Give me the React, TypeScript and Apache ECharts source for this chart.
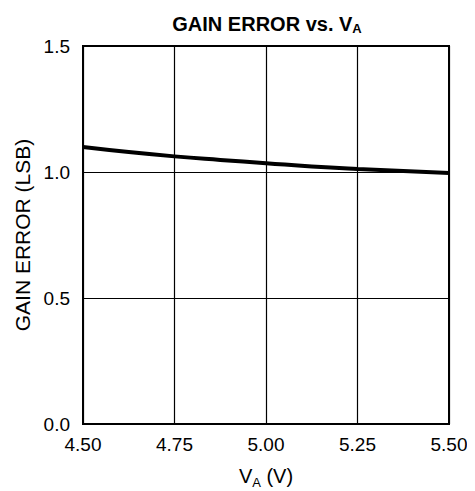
import React, { useEffect, useRef } from "react";
import * as echarts from "echarts";

const voltages = [4.5, 4.625, 4.75, 4.875, 5.0, 5.125, 5.25, 5.375, 5.5];
const gainError = [1.099, 1.079, 1.062, 1.048, 1.035, 1.022, 1.012, 1.004, 0.996];
const xTicks = [4.5, 4.75, 5.0, 5.25, 5.5];
const yTicks = [0, 0.5, 1.0, 1.5];

const FONT = "Liberation Sans, Arial, sans-serif";

export default function App() {
  const ref = useRef<HTMLDivElement>(null);
  useEffect(() => {
    if (!ref.current) return;
    const chart = echarts.init(ref.current, null, { renderer: "svg" });
    chart.setOption({
      animation: false,
      backgroundColor: "#ffffff",
      title: {
        text: "{t|GAIN ERROR vs. V}{s|A}",
        left: 259,
        textAlign: "center",
        top: 2,
        padding: 0,
        textStyle: {
          rich: {
            t: { fontFamily: FONT, fontSize: 20, fontWeight: "bold", color: "#000", verticalAlign: "bottom", lineHeight: 24 },
            s: { fontFamily: FONT, fontSize: 13, fontWeight: "bold", color: "#000", verticalAlign: "bottom", lineHeight: 24, padding: [0, 0, -1, 0] },
          },
        },
      },
      grid: {
        left: 75,
        right: 26,
        top: 38,
        bottom: 67,
        containLabel: false,
        outerBoundsMode: "none",
        show: true,
        borderColor: "#000",
        borderWidth: 2,
        backgroundColor: "transparent",
      },
      xAxis: {
        type: "value",
        min: 4.5,
        max: 5.5,
        interval: 0.25,
        name: "{v|V}{s|A}{v| (V)}",
        nameLocation: "middle",
        nameGap: 40,
        nameTextStyle: {
          rich: {
            v: { fontFamily: FONT, fontSize: 20, color: "#000", verticalAlign: "bottom", lineHeight: 22 },
            s: { fontFamily: FONT, fontSize: 13, color: "#000", verticalAlign: "bottom", lineHeight: 22, padding: [0, 0, -3, 0] },
          },
        },
        axisLine: { show: true, lineStyle: { color: "#000", width: 2 } },
        axisTick: { show: false },
        axisLabel: {
          fontFamily: FONT,
          fontSize: 19,
          color: "#000",
          margin: 11,
          formatter: (v: number) => (xTicks.includes(Math.round(v * 100) / 100) ? v.toFixed(2) : ""),
        },
        splitLine: { show: true, lineStyle: { color: "#000", width: 1.2 } },
      },
      yAxis: {
        type: "value",
        min: 0,
        max: 1.5,
        interval: 0.5,
        name: "GAIN ERROR (LSB)",
        nameLocation: "middle",
        nameGap: 48,
        nameTextStyle: { fontFamily: FONT, fontSize: 21, color: "#000" },
        axisLine: { show: true, lineStyle: { color: "#000", width: 2 } },
        axisTick: { show: false },
        axisLabel: {
          fontFamily: FONT,
          fontSize: 19,
          color: "#000",
          margin: 13,
          formatter: (v: number) => (yTicks.includes(v) ? v.toFixed(1) : ""),
        },
        splitLine: { show: true, lineStyle: { color: "#000", width: 1.2 } },
      },
      series: [
        {
          type: "line",
          data: voltages.map((v, i) => [v, gainError[i]]),
          smooth: true,
          showSymbol: false,
          lineStyle: { color: "#000", width: 4 },
        },
      ],
    });
    return () => chart.dispose();
  }, []);
  return <div ref={ref} style={{ width: 467, height: 483 }} />;
}
